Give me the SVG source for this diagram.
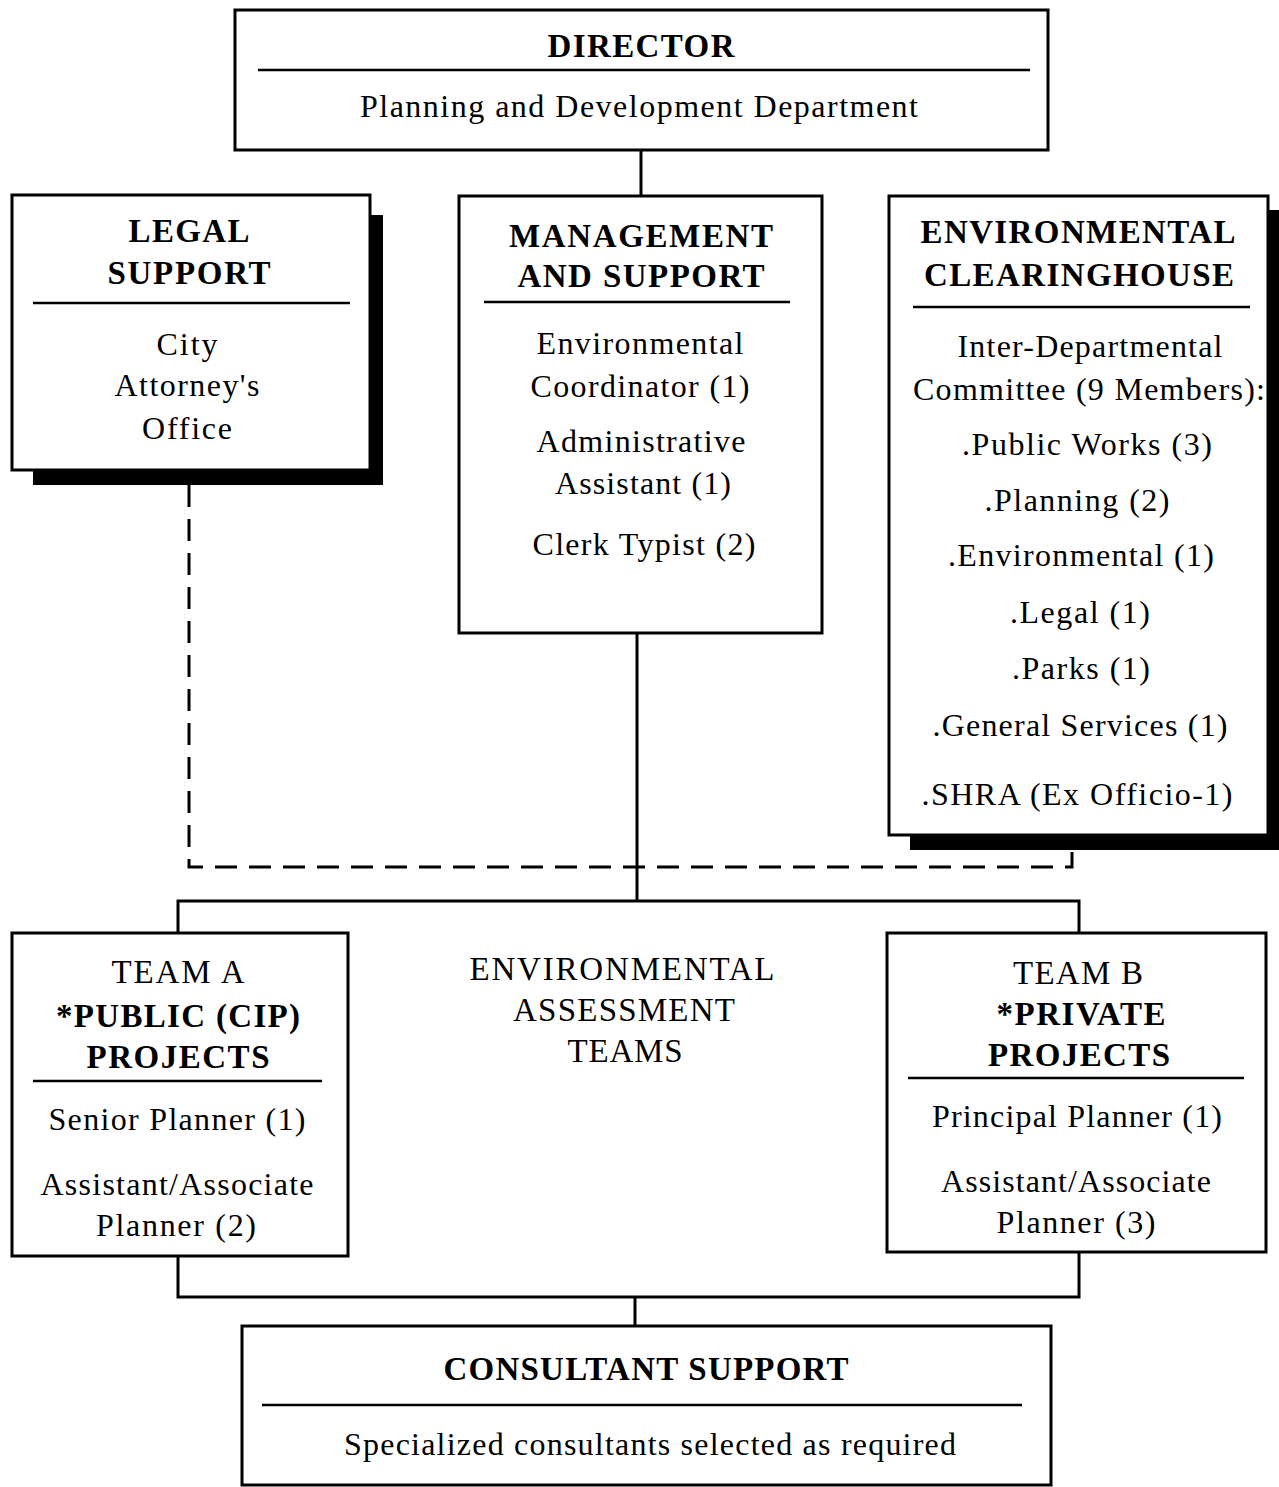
<svg xmlns="http://www.w3.org/2000/svg" width="1279" height="1487" viewBox="0 0 1279 1487">
<style>
.box{fill:#fff;stroke:#000;stroke-width:3}
.div{stroke:#000;stroke-width:2.5}
.sh{fill:#000}
.h{font-family:"Liberation Serif",serif;font-size:33px;font-weight:bold;fill:#000;text-anchor:middle}
.hr{font-family:"Liberation Serif",serif;font-size:33px;fill:#000;text-anchor:middle}
.t{font-family:"Liberation Serif",serif;font-size:32px;fill:#000;text-anchor:middle}
.c{fill:none;stroke:#000;stroke-width:3}
.d{fill:none;stroke:#000;stroke-width:3;stroke-dasharray:22 12}
</style>
<rect width="1279" height="1487" fill="#fff"/>
<g id="connectors">
<line class="c" x1="641" y1="150" x2="641" y2="196"/>
<polyline class="d" points="189,485 189,867 1072,867 1072,850"/>
<line class="c" x1="637" y1="633" x2="637" y2="901"/>
<polyline class="c" points="178,933 178,901 1079,901 1079,933"/>
<polyline class="c" points="178,1256 178,1297 1079,1297 1079,1252"/>
<line class="c" x1="635" y1="1297" x2="635" y2="1326"/>
</g>
<g id="director">
<rect class="box" x="235" y="10" width="813" height="140"/>
<line class="div" x1="258" y1="70" x2="1030" y2="70"/>
<text class="h" x="641" y="57" textLength="187">DIRECTOR</text>
<text class="t" x="639" y="117" textLength="558">Planning and Development Department</text>
</g>
<g id="legal-support">
<path class="sh" d="M370,215 H383 V485 H33 V470 H370 Z"/>
<rect class="box" x="12" y="195" width="358" height="275"/>
<line class="div" x1="33" y1="303" x2="350" y2="303"/>
<text class="h" x="189" y="242" textLength="121">LEGAL</text>
<text class="h" x="189" y="284" textLength="163">SUPPORT</text>
<text class="t" x="187" y="355" textLength="61">City</text>
<text class="t" x="187" y="396" textLength="145">Attorney's</text>
<text class="t" x="187" y="439" textLength="90">Office</text>
</g>
<g id="management-support">
<rect class="box" x="459" y="196" width="363" height="437"/>
<line class="div" x1="484" y1="302" x2="790" y2="302"/>
<text class="h" x="641" y="247" textLength="264">MANAGEMENT</text>
<text class="h" x="641" y="287" textLength="247">AND SUPPORT</text>
<text class="t" x="640" y="354" textLength="207">Environmental</text>
<text class="t" x="640" y="397" textLength="219">Coordinator (1)</text>
<text class="t" x="641" y="452" textLength="209">Administrative</text>
<text class="t" x="643" y="494" textLength="176">Assistant (1)</text>
<text class="t" x="644" y="555" textLength="223">Clerk Typist (2)</text>
</g>
<g id="environmental-clearinghouse">
<path class="sh" d="M1268,210 H1279 V850 H910 V835 H1268 Z"/>
<rect class="box" x="889" y="196" width="379" height="639"/>
<line class="div" x1="913" y1="307" x2="1250" y2="307"/>
<text class="h" x="1078" y="243" textLength="315">ENVIRONMENTAL</text>
<text class="h" x="1079" y="286" textLength="310">CLEARINGHOUSE</text>
<text class="t" x="1090" y="357" textLength="265">Inter-Departmental</text>
<text class="t" x="1089" y="400" textLength="352">Committee (9 Members):</text>
<text class="t" x="1087" y="455" textLength="250">.Public Works (3)</text>
<text class="t" x="1077" y="511" textLength="185">.Planning (2)</text>
<text class="t" x="1081" y="566" textLength="266">.Environmental (1)</text>
<text class="t" x="1080" y="623" textLength="140">.Legal (1)</text>
<text class="t" x="1081" y="679" textLength="138">.Parks (1)</text>
<text class="t" x="1080" y="736" textLength="295">.General Services (1)</text>
<text class="t" x="1077" y="805" textLength="311">.SHRA (Ex Officio-1)</text>
</g>
<g id="team-a">
<rect class="box" x="12" y="933" width="336" height="323"/>
<line class="div" x1="33" y1="1081" x2="322" y2="1081"/>
<text class="hr" x="178" y="983" textLength="133">TEAM A</text>
<text class="h" x="178" y="1027" textLength="244">*PUBLIC (CIP)</text>
<text class="h" x="178" y="1068" textLength="183">PROJECTS</text>
<text class="t" x="177" y="1130" textLength="257">Senior Planner (1)</text>
<text class="t" x="177" y="1195" textLength="273">Assistant/Associate</text>
<text class="t" x="176" y="1236" textLength="160">Planner (2)</text>
</g>
<g id="environmental-assessment-teams">
<text class="hr" x="622" y="980" textLength="305">ENVIRONMENTAL</text>
<text class="hr" x="624" y="1021" textLength="222">ASSESSMENT</text>
<text class="hr" x="625" y="1062" textLength="115">TEAMS</text>
</g>
<g id="team-b">
<rect class="box" x="887" y="933" width="379" height="319"/>
<line class="div" x1="908" y1="1078" x2="1244" y2="1078"/>
<text class="hr" x="1078" y="984" textLength="130">TEAM B</text>
<text class="h" x="1081" y="1025" textLength="169">*PRIVATE</text>
<text class="h" x="1079" y="1066" textLength="182">PROJECTS</text>
<text class="t" x="1077" y="1127" textLength="290">Principal Planner (1)</text>
<text class="t" x="1076" y="1192" textLength="270">Assistant/Associate</text>
<text class="t" x="1076" y="1233" textLength="159">Planner (3)</text>
</g>
<g id="consultant-support">
<rect class="box" x="242" y="1326" width="809" height="159"/>
<line class="div" x1="262" y1="1405" x2="1022" y2="1405"/>
<text class="h" x="646" y="1380" textLength="405">CONSULTANT SUPPORT</text>
<text class="t" x="650" y="1455" textLength="612">Specialized consultants selected as required</text>
</g>
</svg>
